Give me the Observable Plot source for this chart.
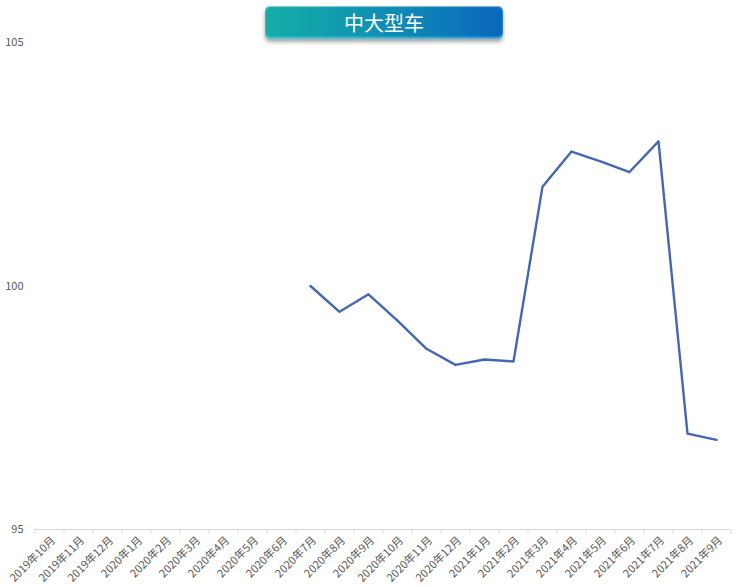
<!DOCTYPE html>
<html>
<head>
<meta charset="utf-8">
<script src="https://cdn.jsdelivr.net/npm/d3@7"></script>
<script src="https://cdn.jsdelivr.net/npm/@observablehq/plot@0.6"></script>
<style>
  html, body { margin: 0; padding: 0; background: #fff; }
  #wrap { position: relative; width: 744px; height: 587px; overflow: hidden; }
  #title {
    position: absolute; left: 265px; top: 6px; width: 238px; height: 33px;
    border-radius: 5px;
    background: linear-gradient(to right, #15aea5 0%, #0f8fb3 50%, #0a67bd 100%);
    box-shadow: 0 3px 4px rgba(0,0,0,0.35), inset 0 1px 1px rgba(255,255,255,0.5), inset 0 -2px 2px rgba(120,220,255,0.6);
    color: #fff; font-family: "Noto Sans CJK SC", sans-serif; font-size: 20px;
    line-height: 33px; text-align: center;
  }
  #chart { position: absolute; left: 0; top: 0; }
</style>
</head>
<body>
<div id="wrap">
  <div id="chart"></div>
  <div id="title">中大型车</div>
</div>
<script>
const months = [
  "2019年10月","2019年11月","2019年12月","2020年1月","2020年2月","2020年3月",
  "2020年4月","2020年5月","2020年6月","2020年7月","2020年8月","2020年9月",
  "2020年10月","2020年11月","2020年12月","2021年1月","2021年2月","2021年3月",
  "2021年4月","2021年5月","2021年6月","2021年7月","2021年8月","2021年9月"
];
const values = [
  null, null, null, null, null, null,
  null, null, null, 100.0, 99.47, 99.83,
  99.29, 98.71, 98.38, 98.49, 98.45, 102.04,
  102.76, 102.56, 102.34, 102.97, 96.97, 96.84
];
const yTicks = [95, 100, 105];

const data = months.map((m, i) => ({month: m, value: values[i]}));
const font = "'Noto Sans CJK SC', 'DejaVu Sans', sans-serif";

const plot = Plot.plot({
  width: 744,
  height: 587,
  marginLeft: 34,
  marginRight: 14,
  marginTop: 42,
  marginBottom: 58,
  style: {fontFamily: font, fontSize: "11px", color: "#595959", background: "transparent"},
  x: {type: "point", domain: months, padding: 0.5, label: null},
  y: {domain: [95, 105], label: null},
  marks: [
    Plot.axisY(yTicks, {tickSize: 0, tickPadding: 11, fontSize: 11, fill: "#595959"}),
    Plot.ruleY([95], {stroke: "#d9d9d9", strokeWidth: 1}),
    Plot.axisX(months, {tickSize: 5, tickFormat: null, dx: -14.5, stroke: "#d9d9d9", label: null}),
    Plot.axisX([months[months.length - 1]], {tickSize: 5, tickFormat: null, dx: 14.5, stroke: "#d9d9d9", label: null}),
    Plot.axisX(months, {tickSize: 0, tickPadding: 9, tickRotate: -45, fontSize: 11, fill: "#595959", label: null, dx: 4}),
    Plot.line(data, {x: "month", y: "value", stroke: "#4566b1", strokeWidth: 2.4, strokeLinejoin: "round"})
  ]
});
document.getElementById("chart").appendChild(plot);
</script>
</body>
</html>
